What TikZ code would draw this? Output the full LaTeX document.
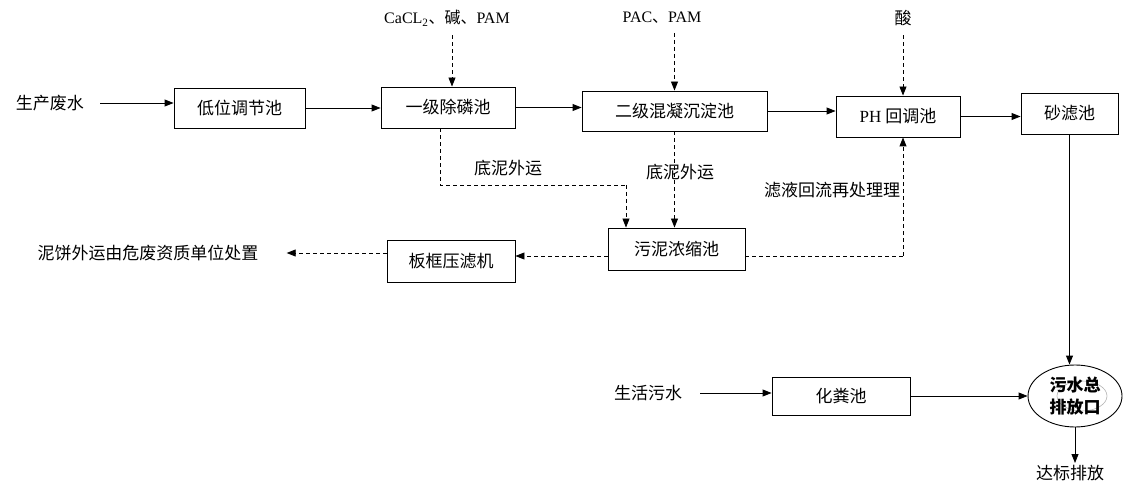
\documentclass[tikz,border=0pt]{standalone}
\usepackage{fontspec}
\setmainfont{Liberation Serif}
\newfontfamily\cjk{Noto Sans CJK SC}
\usetikzlibrary{arrows.meta,shapes.geometric}
\tikzset{
  box/.style={draw, line width=0.9pt, minimum height=40pt, inner sep=0pt, font=\cjk\fontsize{17}{19}\selectfont},
  lbl/.style={inner sep=0pt, font=\cjk\fontsize{17}{19}\selectfont},
  flow/.style={line width=0.9pt, -{Triangle[length=9pt,width=7pt]}},
  dflow/.style={line width=0.9pt, dash pattern=on 4pt off 3pt, -{Triangle[length=9pt,width=7pt]}},
  dline/.style={line width=0.9pt, dash pattern=on 4pt off 3pt}
}
\begin{document}
\begin{tikzpicture}[x=1pt,y=-1pt]
\useasboundingbox (0,0) rectangle (1130,486);
% main line
\node[lbl] (src) at (50,103) {生产废水};
\node[box, minimum width=131pt] (b1) at (239.5,108) {低位调节池};
\node[box, minimum width=134pt, minimum height=41pt] (b2) at (448,107.5) {一级除磷池};
\node[box, minimum width=185pt] (b3) at (674.5,111) {二级混凝沉淀池};
\node[box, minimum width=124pt, minimum height=41pt] (b4) at (898,116.5) {{\rmfamily PH} 回调池};
\node[box, minimum width=97pt, minimum height=41pt] (b5) at (1069.5,113.5) {砂滤池};
% reagents
\node[inner sep=0pt, font=\fontsize{16}{18}\selectfont] (r1) at (447,18) {CaCL\textsubscript{2}{\cjk 、碱、}PAM};
\node[inner sep=0pt, font=\fontsize{16}{18}\selectfont] (r2) at (662,18) {PAC{\cjk 、}PAM};
\node[lbl] (r3) at (903,18) {酸};
% sludge
\node[box, minimum width=137pt, minimum height=42pt] (b6) at (676.5,249) {污泥浓缩池};
\node[box, minimum width=128pt, minimum height=42pt] (b7) at (451,261) {板框压滤机};
\node[lbl] (cake) at (148,253) {泥饼外运由危废资质单位处置};
\node[lbl] (l1) at (508,168) {底泥外运};
\node[lbl] (l2) at (680,172) {底泥外运};
\node[lbl] (l3) at (832,190) {滤液回流再处理理};
% domestic
\node[lbl] (dom) at (648,393) {生活污水};
\node[box, minimum width=138pt, minimum height=38pt] (b8) at (841,396) {化粪池};
\node[draw, ellipse, line width=0.9pt, minimum width=94pt, minimum height=62pt, inner sep=0pt] (e) at (1075,396) {};
\draw[gray!60, line width=0.6pt] (1082,396) ellipse (25pt and 15pt);
\node[inner sep=0pt, align=center, font=\cjk\bfseries\fontsize{17}{22}\selectfont] (et) at (1075,396) {污水总\\排放口};
\node[lbl] (fin) at (1070,473) {达标排放};
% coordinates
\coordinate (c1) at (440,185);
\coordinate (c2) at (626,185);
\coordinate (c3) at (903,256);
\coordinate (srcend) at (100,103);
\coordinate (finend) at (1075,463);
% main flow arrows
\draw[flow] (srcend) -- (src.east -| b1.west);
\draw[flow] (b1.east) -- (b1.east -| b2.west);
\draw[flow] (b2.east) -- (b2.east -| b3.west);
\draw[flow] (b3.east) -- (b3.east -| b4.west);
\draw[flow] (b4.east) -- (b4.east -| b5.west);
% reagent arrows
\draw[dflow] (r1.south -| b2.north) ++(4,9) coordinate (r1s) -- (r1s |- b2.north);
\draw[dflow] ([yshift=-9pt]r2.south -| b3.north) -- (b3.north);
\draw[dflow] ([yshift=-9pt]r3.south) -- (r3.south |- b4.north);
% sludge
\draw[dline] (b2.south -| c1) -- (c1) -- (c2);
\draw[dflow] (c2) -- (c2 |- b6.north);
\draw[dflow] (b3.south) -- (b3.south |- b6.north);
\draw[dline] (b6.east |- c3) -- (c3);
\draw[dflow] (c3) -- (c3 |- b4.south);
\draw[dflow] (b6.west |- c3) -- (b7.east |- c3);
\draw[dflow] (b7.west |- cake) -- ([xshift=28pt]cake.east);
% outlet
\draw[flow] (b5.south) -- (b5.south |- e.north);
\coordinate (domend) at (700,393);
\draw[flow] (domend) -- (domend -| b8.west);
\draw[flow] (b8.east) -- (e.west);
\draw[flow] (e.south) -- (finend);
\end{tikzpicture}
\end{document}
